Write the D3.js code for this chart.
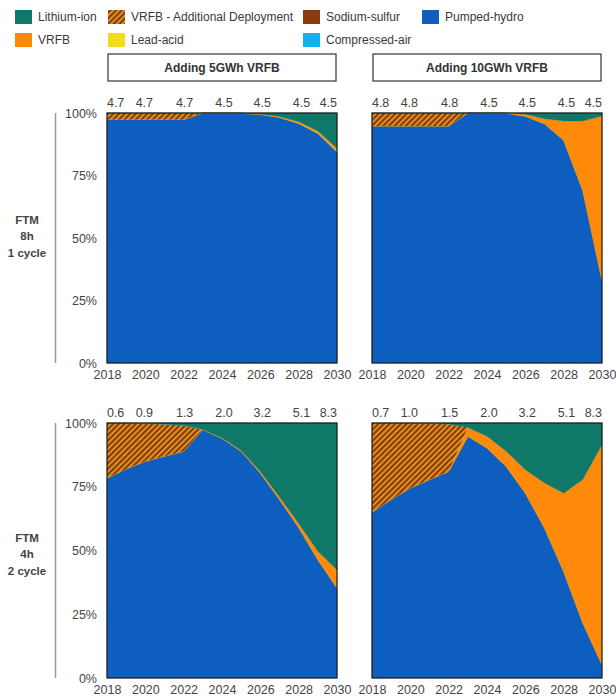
<!DOCTYPE html>
<html>
<head>
<meta charset="utf-8">
<script src="https://cdn.jsdelivr.net/npm/d3@7"></script>
<style>
  body { margin: 0; background: #fff; }
  svg { display: block; font-family: "Liberation Sans", Arial, sans-serif; }
</style>
</head>
<body>
<svg id="chart" width="616" height="700"></svg>
<script>
// ---- categories and labels ----
const years = [2018, 2019, 2020, 2021, 2022, 2023, 2024, 2025, 2026, 2027, 2028, 2029, 2030];
const xTickYears = [2018, 2020, 2022, 2024, 2026, 2028, 2030];
const yTickShares = [0, 25, 50, 75, 100];
const stackOrder = ["Pumped-hydro", "Compressed-air", "Sodium-sulfur", "Lead-acid", "VRFB",
                    "VRFB - Additional Deployment", "Lithium-ion"];
const legendRow1 = ["Lithium-ion", "VRFB - Additional Deployment", "Sodium-sulfur", "Pumped-hydro"];
const legendRow2 = ["VRFB", "Lead-acid", "Compressed-air"];
const columnTitles = ["Adding 5GWh VRFB", "Adding 10GWh VRFB"];
const rowTitles = [["FTM", "8h", "1 cycle"], ["FTM", "4h", "2 cycle"]];
// where the total-capacity labels sit along the year axis
const capacityLabelYears = [2018.45, 2019.95, 2022.05, 2024.1, 2026.1, 2028.15, 2029.55];

// ---- total capacity labels (GWh) ----
const capacity8h5 = ["4.7", "4.7", "4.7", "4.5", "4.5", "4.5", "4.5"];
const capacity8h10 = ["4.8", "4.8", "4.8", "4.5", "4.5", "4.5", "4.5"];
const capacity4h5 = ["0.6", "0.9", "1.3", "2.0", "3.2", "5.1", "8.3"];
const capacity4h10 = ["0.7", "1.0", "1.5", "2.0", "3.2", "5.1", "8.3"];

// ---- technology shares (% of capacity), FTM 8h 1 cycle, +5GWh VRFB ----
const hydro8h5   = [97.4, 97.4, 97.4, 97.4, 97.4, 100, 100, 99.9, 99.4, 98.2, 95.8, 91.8, 84.4];
const lead8h5    = [0, 0, 0, 0, 0, 0, 0, 0, 0, 0.1, 0.2, 0.3, 0.3];
const vrfb8h5    = [0, 0, 0, 0, 0, 0, 0, 0, 0.1, 0.3, 0.5, 0.7, 1.2];
const vrfbAdd8h5 = [2.6, 2.6, 2.6, 2.6, 2.6, 0, 0, 0, 0, 0, 0, 0, 0];
const li8h5      = [0, 0, 0, 0, 0, 0, 0, 0.1, 0.5, 1.4, 3.5, 7.2, 14.1];

// ---- FTM 8h 1 cycle, +10GWh VRFB ----
const hydro8h10   = [94.8, 94.8, 94.8, 94.8, 94.8, 100, 100, 99.9, 98.7, 95.7, 89.1, 69, 33];
const lead8h10    = [0, 0, 0, 0, 0, 0, 0, 0, 0, 0, 0, 0, 0];
const vrfb8h10    = [0, 0, 0, 0, 0, 0, 0, 0.1, 0.8, 2.0, 7.7, 27.8, 65.8];
const vrfbAdd8h10 = [5.2, 5.2, 5.2, 5.2, 5.2, 0, 0, 0, 0, 0, 0, 0, 0];
const li8h10      = [0, 0, 0, 0, 0, 0, 0, 0, 0.5, 2.3, 3.2, 3.2, 1.2];

// ---- FTM 4h 2 cycle, +5GWh VRFB ----
const hydro4h5   = [78.4, 82, 85, 87, 88.9, 97.4, 94, 88.9, 80.4, 70, 59, 46.4, 35.3];
const lead4h5    = [0, 0, 0, 0, 0, 0, 0, 0, 0, 0, 0, 0, 0];
const vrfb4h5    = [0, 0, 0, 0, 0, 0.1, 0.2, 0.3, 0.6, 1.0, 1.6, 3.3, 7.1];
const vrfbAdd4h5 = [21.6, 18, 14.8, 12.4, 10.1, 0, 0, 0, 0, 0, 0, 0, 0];
const li4h5      = [0, 0, 0.2, 0.6, 1.0, 2.5, 5.8, 10.8, 19.0, 29.0, 39.4, 50.3, 57.6];

// ---- FTM 4h 2 cycle, +10GWh VRFB ----
const hydro4h10   = [65, 70, 74.5, 77.8, 81, 94.8, 90.2, 83, 72.5, 58.8, 41.8, 21.6, 5.2];
const lead4h10    = [0, 0, 0, 0, 0, 0, 0, 0, 0, 0, 0, 0, 0];
const vrfb4h10    = [0, 0, 0, 0, 0, 3.4, 4.6, 5.9, 9.2, 17.7, 30.7, 56.2, 86.3];
const vrfbAdd4h10 = [35, 30, 25.5, 22.1, 18.5, 0, 0, 0, 0, 0, 0, 0, 0];
const li4h10      = [0, 0, 0, 0.1, 0.5, 1.8, 5.2, 11.1, 18.3, 23.5, 27.5, 22.2, 8.5];

// technologies with no visible share in any scenario
const compressedAir = [0, 0, 0, 0, 0, 0, 0, 0, 0, 0, 0, 0, 0];
const sodiumSulfur  = [0, 0, 0, 0, 0, 0, 0, 0, 0, 0, 0, 0, 0];

const colors = {
  "Lithium-ion": "#107868",
  "VRFB": "#FF8A0A",
  "VRFB - Additional Deployment": "url(#hatch)",
  "Lead-acid": "#F4DC1C",
  "Sodium-sulfur": "#8A3A0C",
  "Compressed-air": "#12B0EC",
  "Pumped-hydro": "#0E5EC0"
};

// ---- panels ----
const panels = [
  { row: 0, col: 0, labels: capacity8h5,
    series: [hydro8h5, compressedAir, sodiumSulfur, lead8h5, vrfb8h5, vrfbAdd8h5, li8h5] },
  { row: 0, col: 1, labels: capacity8h10,
    series: [hydro8h10, compressedAir, sodiumSulfur, lead8h10, vrfb8h10, vrfbAdd8h10, li8h10] },
  { row: 1, col: 0, labels: capacity4h5,
    series: [hydro4h5, compressedAir, sodiumSulfur, lead4h5, vrfb4h5, vrfbAdd4h5, li4h5] },
  { row: 1, col: 1, labels: capacity4h10,
    series: [hydro4h10, compressedAir, sodiumSulfur, lead4h10, vrfb4h10, vrfbAdd4h10, li4h10] }
];

const colX = [107, 372];
const rowY = [113, 423];
const rowH = [250, 255];
const rowTitleY = [236, 554];
const plotW = 230;

const svg = d3.select("#chart");

// hatch: orange ground with dark diagonal stripes
const defs = svg.append("defs");
const pat = defs.append("pattern")
  .attr("id", "hatch")
  .attr("patternUnits", "userSpaceOnUse")
  .attr("width", 4).attr("height", 4)
  .attr("patternTransform", "rotate(45)");
pat.append("rect").attr("width", 4).attr("height", 4).attr("fill", "#EE8A1C");
pat.append("line").attr("x1", 1).attr("y1", 0).attr("x2", 1).attr("y2", 4)
  .attr("stroke", "#5A2E0C").attr("stroke-width", 1.6);

// ---- legend ----
const legendCols = [15, 108, 303, 422];
function drawLegendRow(items, y) {
  items.forEach((name, i) => {
    const g = svg.append("g").attr("transform", `translate(${legendCols[i]},${y})`);
    g.append("rect").attr("x", 0).attr("y", -7).attr("width", 17).attr("height", 14)
      .attr("fill", colors[name]);
    g.append("text").attr("x", 23).attr("y", 0).attr("dy", "0.35em")
      .attr("font-size", 12).attr("fill", "#3a3a3a").text(name);
  });
}
drawLegendRow(legendRow1, 17);
drawLegendRow(legendRow2, 40);

// ---- column titles ----
columnTitles.forEach((t, c) => {
  svg.append("rect").attr("x", colX[c] + 1).attr("y", 54).attr("width", plotW - 2).attr("height", 27)
    .attr("fill", "#fff").attr("stroke", "#333").attr("stroke-width", 1.2);
  svg.append("text").attr("x", colX[c] + plotW / 2).attr("y", 67.5).attr("dy", "0.35em")
    .attr("text-anchor", "middle").attr("font-size", 12).attr("font-weight", "bold")
    .attr("fill", "#333").text(t);
});

// ---- row titles and left rules ----
rowTitles.forEach((lines, r) => {
  lines.forEach((ln, i) => {
    svg.append("text").attr("x", 27).attr("y", rowTitleY[r] + (i - 1) * 16.5).attr("dy", "0.35em")
      .attr("text-anchor", "middle").attr("font-size", 11.5).attr("font-weight", "bold")
      .attr("fill", "#444").text(ln);
  });
  svg.append("line").attr("x1", 55.5).attr("x2", 55.5)
    .attr("y1", rowY[r]).attr("y2", rowY[r] + rowH[r])
    .attr("stroke", "#9a9a9a").attr("stroke-width", 1.5);
});

// ---- panels ----
const stack = d3.stack().keys(d3.range(stackOrder.length)).value((d, k) => d.values[k]);

panels.forEach(p => {
  const x = d3.scaleLinear().domain([2018, 2030]).range([0, plotW]);
  const y = d3.scaleLinear().domain([0, 100]).range([rowH[p.row], 0]);
  const g = svg.append("g").attr("transform", `translate(${colX[p.col]},${rowY[p.row]})`);

  const rows = years.map((yr, i) => ({ year: yr, values: p.series.map(s => s[i]) }));
  const layers = stack(rows);
  const area = d3.area()
    .x(d => x(d.data.year))
    .y0(d => y(d[0]))
    .y1(d => y(d[1]));

  g.selectAll("path.layer").data(layers).join("path")
    .attr("class", "layer")
    .attr("d", area)
    .attr("fill", d => colors[stackOrder[d.key]])
    .attr("stroke", d => colors[stackOrder[d.key]] === "url(#hatch)" ? "none" : colors[stackOrder[d.key]])
    .attr("stroke-width", 0.3);

  // frame
  g.append("rect").attr("x", 0).attr("y", 0).attr("width", plotW).attr("height", rowH[p.row])
    .attr("fill", "none").attr("stroke", "#1a1a1a").attr("stroke-width", 1.2);

  // x axis
  const xa = g.append("g").attr("transform", `translate(0,${rowH[p.row]})`)
    .call(d3.axisBottom(x).tickValues(xTickYears).tickFormat(d3.format("d")).tickSize(0).tickPadding(7));
  xa.select(".domain").remove();
  xa.selectAll("text").attr("font-size", 12.5).attr("fill", "#444")
    .attr("font-family", "'Liberation Sans', Arial, sans-serif");

  // y axis (left column only)
  if (p.col === 0) {
    const ya = g.append("g")
      .call(d3.axisLeft(y).tickValues(yTickShares).tickFormat(d => d + "%").tickSize(0).tickPadding(10));
    ya.select(".domain").remove();
    ya.selectAll("text").attr("font-size", 12.5).attr("fill", "#444")
      .attr("font-family", "'Liberation Sans', Arial, sans-serif");
  }

  // total capacity labels above the panel
  g.selectAll("text.cap").data(p.labels).join("text")
    .attr("class", "cap")
    .attr("x", (d, i) => x(capacityLabelYears[i]))
    .attr("y", -10).attr("dy", "0.35em")
    .attr("text-anchor", "middle").attr("font-size", 12.5).attr("fill", "#444")
    .text(d => d);
});
</script>
</body>
</html>
